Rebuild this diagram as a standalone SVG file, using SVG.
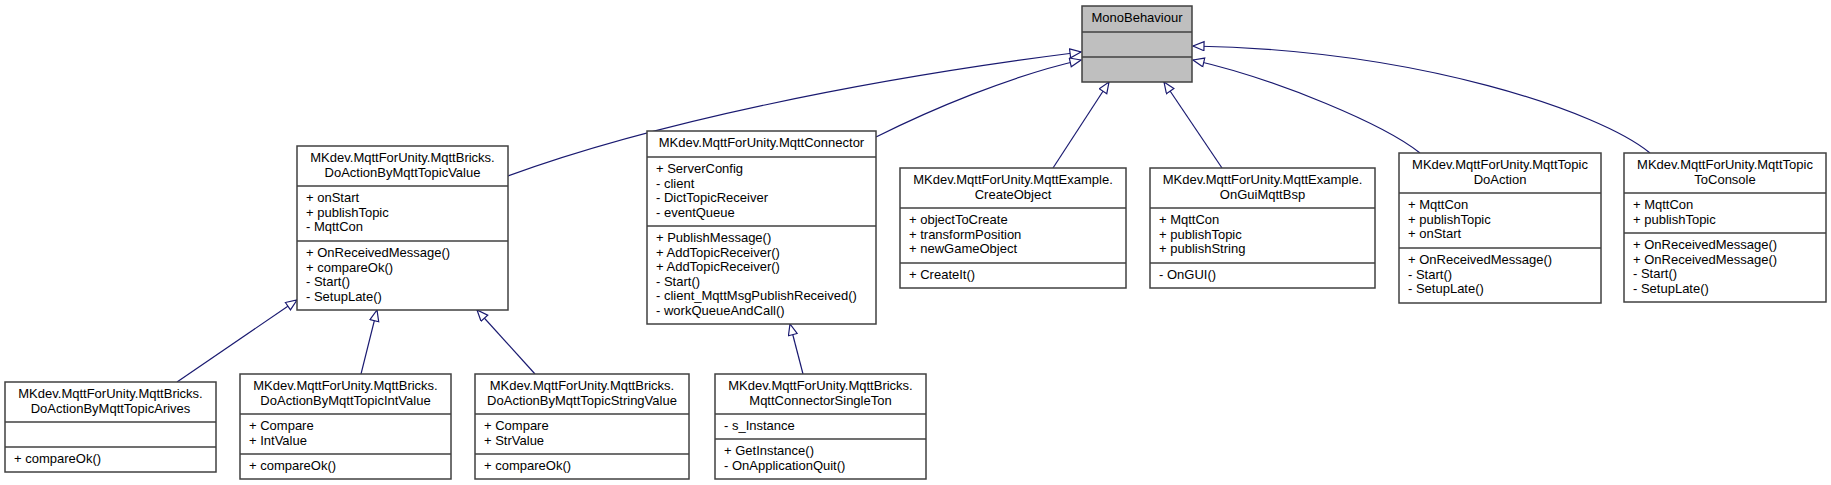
<svg xmlns="http://www.w3.org/2000/svg" width="1831" height="485" viewBox="0 0 1831 485">
<style>
text{font-family:"Liberation Sans",Arial,sans-serif;font-size:13px;fill:#000}
.t{text-anchor:middle}
.box{fill:#fff;stroke:#404040;stroke-width:1.5}
.base{fill:#bfbfbf;stroke:#404040;stroke-width:1.5}
.sep{stroke:#404040;stroke-width:1.5}
.edge{fill:none;stroke:#191970;stroke-width:1.2;marker-end:url(#inh)}
</style>
<defs>
<marker id="inh" markerUnits="userSpaceOnUse" markerWidth="14" markerHeight="12" refX="12" refY="5" orient="auto">
<path d="M1,0.5 L12,5 L1,9.5 Z" fill="#fff" stroke="#191970" stroke-width="1.2"/>
</marker>
</defs>
<rect width="1831" height="485" fill="#fff"/>
<g id="connectors">
<path class="edge" d="M508,176 C650,124 860,80 1081,52"/>
<path class="edge" d="M876,137 C930,110 1010,76 1081,60"/>
<path class="edge" d="M1053,168 L1109,82"/>
<path class="edge" d="M1222,168 L1164,82"/>
<path class="edge" d="M1420,153 C1385,125 1280,80 1193,60"/>
<path class="edge" d="M1650,153 C1600,112 1420,50 1193,46"/>
<path class="edge" d="M177,382 L297,300"/>
<path class="edge" d="M361,374 L377,310"/>
<path class="edge" d="M535,374 L477,310"/>
<path class="edge" d="M803,374 L790,324"/>
</g>
<g id="MonoBehaviour">
<rect class="base" x="1082" y="6" width="110" height="76"/>
<line class="sep" x1="1082" y1="32" x2="1192" y2="32"/>
<line class="sep" x1="1082" y1="57" x2="1192" y2="57"/>
<text class="t" x="1137" y="22">MonoBehaviour</text>
</g>
<g id="DoActionByMqttTopicValue">
<rect class="box" x="297" y="146" width="211" height="164"/>
<line class="sep" x1="297" y1="186" x2="508" y2="186"/>
<line class="sep" x1="297" y1="241" x2="508" y2="241"/>
<text class="t" x="402.5" y="162">MKdev.MqttForUnity.MqttBricks.</text>
<text class="t" x="402.5" y="176.5">DoActionByMqttTopicValue</text>
<text x="306" y="202">+ onStart</text>
<text x="306" y="216.5">+ publishTopic</text>
<text x="306" y="231">- MqttCon</text>
<text x="306" y="257">+ OnReceivedMessage()</text>
<text x="306" y="271.5">+ compareOk()</text>
<text x="306" y="286">- Start()</text>
<text x="306" y="300.5">- SetupLate()</text>
</g>
<g id="MqttConnector">
<rect class="box" x="647" y="131" width="229" height="193"/>
<line class="sep" x1="647" y1="157" x2="876" y2="157"/>
<line class="sep" x1="647" y1="226" x2="876" y2="226"/>
<text class="t" x="761.5" y="147">MKdev.MqttForUnity.MqttConnector</text>
<text x="656" y="173">+ ServerConfig</text>
<text x="656" y="187.5">- client</text>
<text x="656" y="202">- DictTopicReceiver</text>
<text x="656" y="216.5">- eventQueue</text>
<text x="656" y="242">+ PublishMessage()</text>
<text x="656" y="256.5">+ AddTopicReceiver()</text>
<text x="656" y="271">+ AddTopicReceiver()</text>
<text x="656" y="285.5">- Start()</text>
<text x="656" y="300">- client_MqttMsgPublishReceived()</text>
<text x="656" y="314.5">- workQueueAndCall()</text>
</g>
<g id="CreateObject">
<rect class="box" x="900" y="168" width="226" height="120"/>
<line class="sep" x1="900" y1="208" x2="1126" y2="208"/>
<line class="sep" x1="900" y1="263" x2="1126" y2="263"/>
<text class="t" x="1013" y="184">MKdev.MqttForUnity.MqttExample.</text>
<text class="t" x="1013" y="198.5">CreateObject</text>
<text x="909" y="224">+ objectToCreate</text>
<text x="909" y="238.5">+ transformPosition</text>
<text x="909" y="253">+ newGameObject</text>
<text x="909" y="279">+ CreateIt()</text>
</g>
<g id="OnGuiMqttBsp">
<rect class="box" x="1150" y="168" width="225" height="120"/>
<line class="sep" x1="1150" y1="208" x2="1375" y2="208"/>
<line class="sep" x1="1150" y1="263" x2="1375" y2="263"/>
<text class="t" x="1262.5" y="184">MKdev.MqttForUnity.MqttExample.</text>
<text class="t" x="1262.5" y="198.5">OnGuiMqttBsp</text>
<text x="1159" y="224">+ MqttCon</text>
<text x="1159" y="238.5">+ publishTopic</text>
<text x="1159" y="253">+ publishString</text>
<text x="1159" y="279">- OnGUI()</text>
</g>
<g id="MqttTopicDoAction">
<rect class="box" x="1399" y="153" width="202" height="150"/>
<line class="sep" x1="1399" y1="193" x2="1601" y2="193"/>
<line class="sep" x1="1399" y1="248" x2="1601" y2="248"/>
<text class="t" x="1500" y="169">MKdev.MqttForUnity.MqttTopic</text>
<text class="t" x="1500" y="183.5">DoAction</text>
<text x="1408" y="209">+ MqttCon</text>
<text x="1408" y="223.5">+ publishTopic</text>
<text x="1408" y="238">+ onStart</text>
<text x="1408" y="264">+ OnReceivedMessage()</text>
<text x="1408" y="278.5">- Start()</text>
<text x="1408" y="293">- SetupLate()</text>
</g>
<g id="MqttTopicToConsole">
<rect class="box" x="1624" y="153" width="202" height="149"/>
<line class="sep" x1="1624" y1="193" x2="1826" y2="193"/>
<line class="sep" x1="1624" y1="233" x2="1826" y2="233"/>
<text class="t" x="1725" y="169">MKdev.MqttForUnity.MqttTopic</text>
<text class="t" x="1725" y="183.5">ToConsole</text>
<text x="1633" y="209">+ MqttCon</text>
<text x="1633" y="223.5">+ publishTopic</text>
<text x="1633" y="249">+ OnReceivedMessage()</text>
<text x="1633" y="263.5">+ OnReceivedMessage()</text>
<text x="1633" y="278">- Start()</text>
<text x="1633" y="292.5">- SetupLate()</text>
</g>
<g id="DoActionByMqttTopicArives">
<rect class="box" x="5" y="382" width="211" height="90"/>
<line class="sep" x1="5" y1="422" x2="216" y2="422"/>
<line class="sep" x1="5" y1="447" x2="216" y2="447"/>
<text class="t" x="110.5" y="398">MKdev.MqttForUnity.MqttBricks.</text>
<text class="t" x="110.5" y="412.5">DoActionByMqttTopicArives</text>
<text x="14" y="463">+ compareOk()</text>
</g>
<g id="DoActionByMqttTopicIntValue">
<rect class="box" x="240" y="374" width="211" height="105"/>
<line class="sep" x1="240" y1="414" x2="451" y2="414"/>
<line class="sep" x1="240" y1="454" x2="451" y2="454"/>
<text class="t" x="345.5" y="390">MKdev.MqttForUnity.MqttBricks.</text>
<text class="t" x="345.5" y="404.5">DoActionByMqttTopicIntValue</text>
<text x="249" y="430">+ Compare</text>
<text x="249" y="444.5">+ IntValue</text>
<text x="249" y="470">+ compareOk()</text>
</g>
<g id="DoActionByMqttTopicStringValue">
<rect class="box" x="475" y="374" width="214" height="105"/>
<line class="sep" x1="475" y1="414" x2="689" y2="414"/>
<line class="sep" x1="475" y1="454" x2="689" y2="454"/>
<text class="t" x="582" y="390">MKdev.MqttForUnity.MqttBricks.</text>
<text class="t" x="582" y="404.5">DoActionByMqttTopicStringValue</text>
<text x="484" y="430">+ Compare</text>
<text x="484" y="444.5">+ StrValue</text>
<text x="484" y="470">+ compareOk()</text>
</g>
<g id="MqttConnectorSingleTon">
<rect class="box" x="715" y="374" width="211" height="105"/>
<line class="sep" x1="715" y1="414" x2="926" y2="414"/>
<line class="sep" x1="715" y1="439" x2="926" y2="439"/>
<text class="t" x="820.5" y="390">MKdev.MqttForUnity.MqttBricks.</text>
<text class="t" x="820.5" y="404.5">MqttConnectorSingleTon</text>
<text x="724" y="430">- s_Instance</text>
<text x="724" y="455">+ GetInstance()</text>
<text x="724" y="469.5">- OnApplicationQuit()</text>
</g>
</svg>
